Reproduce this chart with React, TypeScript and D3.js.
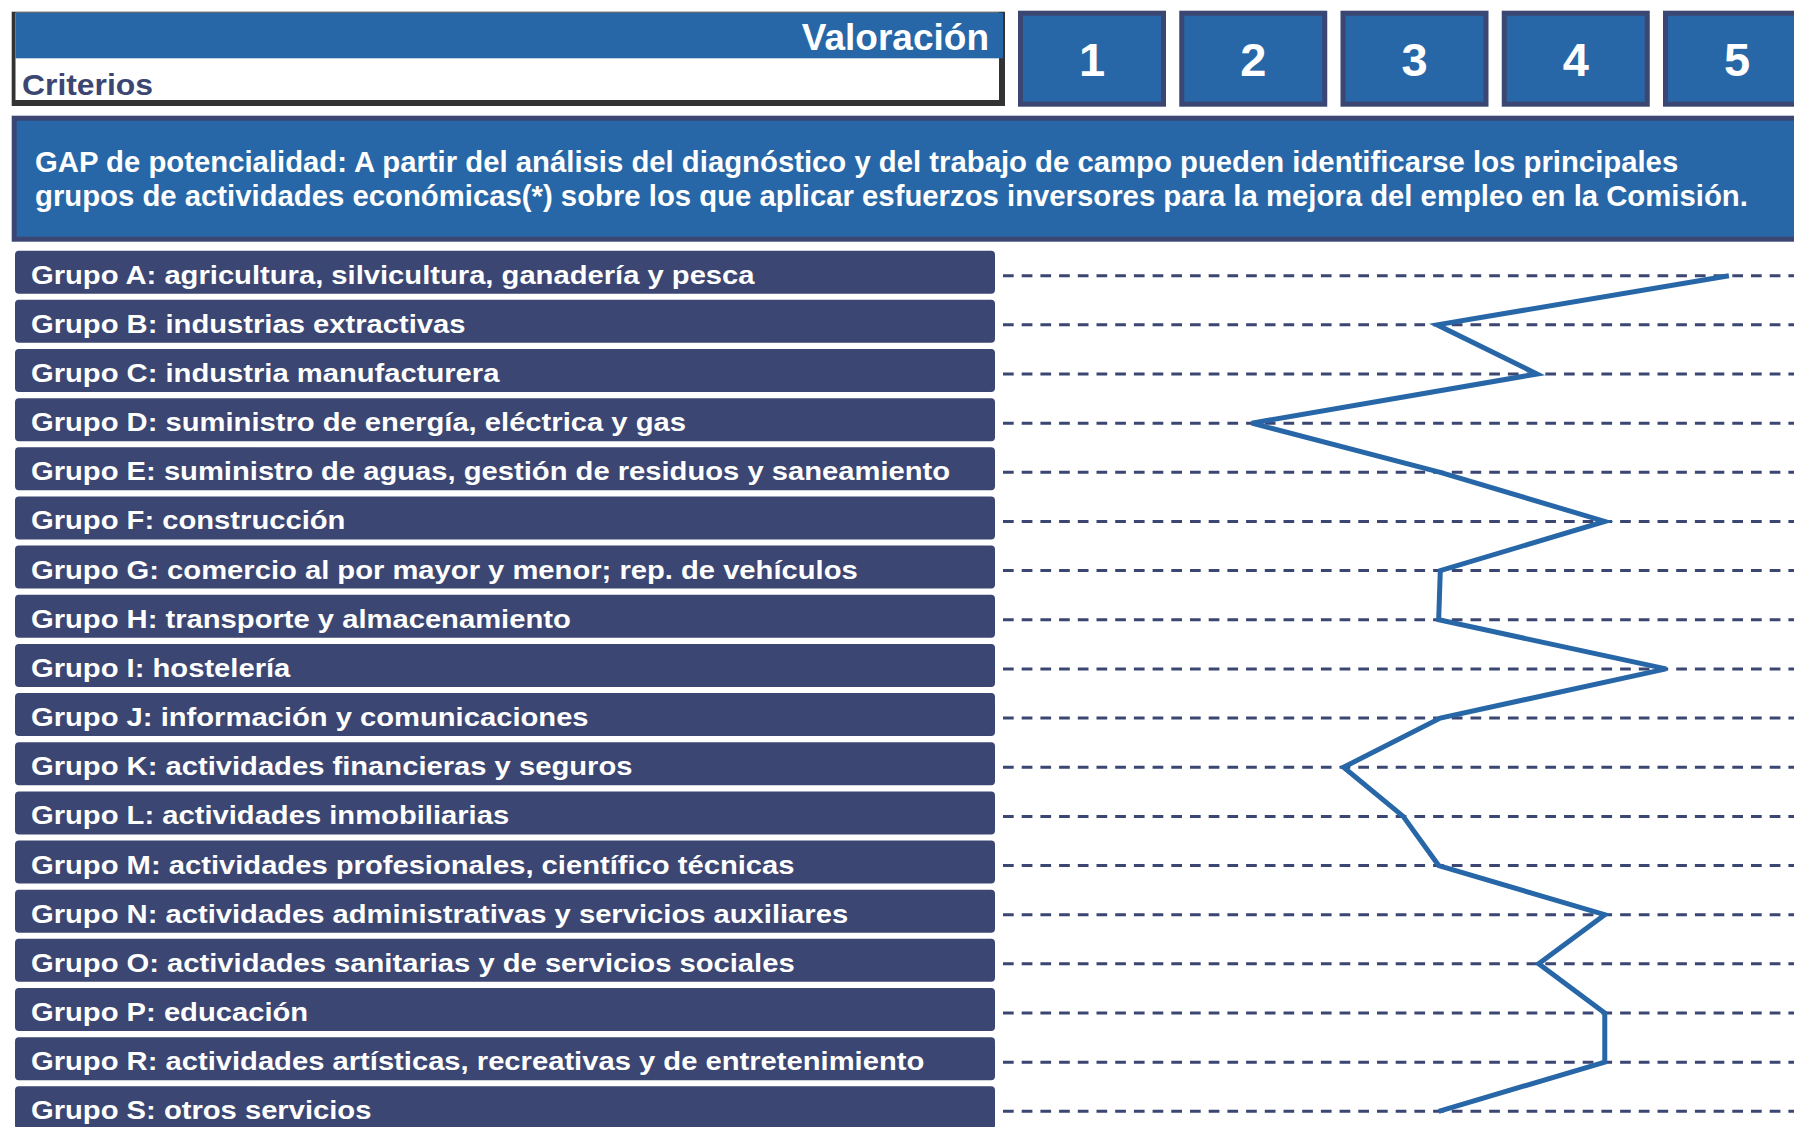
import * as d3 from "d3";

const groupCodes = ["A", "B", "C", "D", "E", "F", "G", "H", "I", "J", "K", "L", "M", "N", "O", "P", "R", "S"];

const groupLabels = [
  "Grupo A: agricultura, silvicultura, ganadería y pesca",
  "Grupo B: industrias extractivas",
  "Grupo C: industria manufacturera",
  "Grupo D: suministro de energía, eléctrica y gas",
  "Grupo E: suministro de aguas, gestión de residuos y saneamiento",
  "Grupo F: construcción",
  "Grupo G: comercio al por mayor y menor; rep. de vehículos",
  "Grupo H: transporte y almacenamiento",
  "Grupo I: hostelería",
  "Grupo J: información y comunicaciones",
  "Grupo K: actividades financieras y seguros",
  "Grupo L: actividades inmobiliarias",
  "Grupo M: actividades profesionales, científico técnicas",
  "Grupo N: actividades administrativas y servicios auxiliares",
  "Grupo O: actividades sanitarias y de servicios sociales",
  "Grupo P: educación",
  "Grupo R: actividades artísticas, recreativas y de entretenimiento",
  "Grupo S: otros servicios",
];

// valoración (escala 1-5)
const valoracion = [4.95, 3.14, 3.76, 1.99, 3.16, 4.18, 3.16, 3.15, 4.56, 3.16, 2.56, 2.93, 3.15, 4.18, 3.77, 4.18, 4.18, 3.15];

const scoreTicks = [1, 2, 3, 4, 5];

const headerTitle = "Valoración";
const headerSub = "Criterios";
const gapLines = [
  "GAP de potencialidad: A partir del análisis del diagnóstico y del trabajo de campo pueden identificarse los principales",
  "grupos de actividades económicas(*) sobre los que aplicar esfuerzos inversores para la mejora del empleo en la Comisión.",
];

const width = 1794;
const height = 1127;
const blue = "#2867a7";
const navy = "#3b4672";
const font = "Liberation Sans, Arial, Helvetica, sans-serif";

const App = () => {
  const x = d3.scaleLinear().domain([1, 5]).range([1092, 1737]);
  const y = d3.scalePoint<string>().domain(groupCodes).range([275.7, 1111.3]);

  const line = d3
    .line<number>()
    .x((d) => x(d))
    .y((_, i) => y(groupCodes[i]) as number);

  const boxW = 148;

  return (
    <svg
      width={width}
      height={height}
      style={{ position: "absolute", left: 0, top: 0, background: "#fff" }}
      fontFamily={font}
      fontWeight="bold"
    >
      {/* cabecera */}
      <rect x={11.7} y={11.7} width={993.3} height={94.3} fill="#333" />
      <rect x={15.5} y={12.7} width={983.5} height={87.3} fill="#fff" />
      <rect x={15.5} y={12.7} width={987.5} height={45.6} fill={blue} />
      <text x={989} y={50} textAnchor="end" fontSize={37} fill="#fff">
        {headerTitle}
      </text>
      <text transform="translate(22,95) scale(1.08,1)" fontSize={29.5} fill={navy}>
        {headerSub}
      </text>

      {scoreTicks.map((v) => (
        <g key={v}>
          <rect
            x={x(v) - boxW / 2 + 2.5}
            y={13.2}
            width={boxW - 5}
            height={91}
            fill={blue}
            stroke={navy}
            strokeWidth={5}
          />
          <text x={x(v)} y={76} textAnchor="middle" fontSize={47} fill="#fff">
            {v}
          </text>
        </g>
      ))}

      {/* GAP */}
      <rect x={14.2} y={118.2} width={1790} height={121} fill={blue} stroke={navy} strokeWidth={5} />
      {gapLines.map((t, i) => (
        <text key={i} x={35} y={172 + i * 33.5} fontSize={29.3} fill="#fff">
          {t}
        </text>
      ))}

      {/* líneas guía */}
      {groupCodes.map((g) => (
        <line
          key={g}
          x1={1003}
          x2={width}
          y1={y(g)}
          y2={y(g)}
          stroke={navy}
          strokeWidth={3}
          strokeDasharray="10.7 8"
        />
      ))}

      {/* barras de grupos */}
      {groupCodes.map((g, i) => (
        <g key={g}>
          <rect x={15} y={(y(g) as number) - 25} width={980} height={43} rx={4} fill={navy} />
          <text
            transform={`translate(31,${(y(g) as number) + 8}) scale(1.14,1)`}
            fontSize={25.6}
            fill="#fff"
          >
            {groupLabels[i]}
          </text>
        </g>
      ))}

      <path d={line(valoracion) || ""} fill="none" stroke={blue} strokeWidth={5} strokeLinejoin="miter" />
    </svg>
  );
};

export default App;
